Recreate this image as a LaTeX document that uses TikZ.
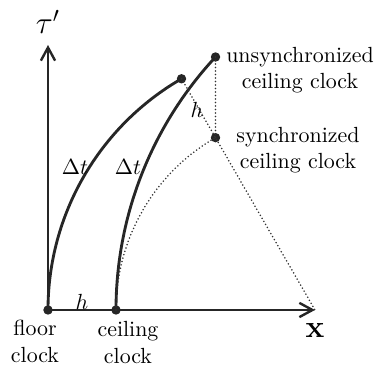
\documentclass[tikz,border=0pt]{standalone}
\usetikzlibrary{arrows.meta,calc}
\begin{document}
\begin{tikzpicture}[x=0.4566pt,y=0.4566pt,
  curve/.style={line width=1.3pt,draw=black!85},
  axis/.style={line width=1.3pt,draw=black!85,-{Straight Barb[length=6pt,width=6.5pt,line width=1.1pt]}},
  guide/.style={line width=0.8pt,dash pattern=on 0pt off 1.6pt,line cap=round,draw=black!80},
  dot/.style={circle,fill=black!85,inner sep=0pt,minimum size=4.3pt},
  lbl/.style={align=center,inner sep=0pt}]
\useasboundingbox (0,0) rectangle (377,365);
\coordinate (C) at (315,55);
\coordinate (xend) at (315,55);
\coordinate (ytip) at (48,320);
\node[dot] (floor) at (48,55) {};
\node[dot] (ceil) at (116,55) {};
\node[dot] (fe) at ($(C)+(120:267)$) {};
\node[dot] (sync) at ($(C)+(120:199)$) {};
\node[dot] (unsync) at ($(116+371.4,55)+(137.06:371.4)$) {};
% axes
\draw[axis] (floor.center) -- (xend);
\draw[axis] (floor.center) -- (ytip);
% worldlines
\draw[curve] (floor.center) arc[start angle=180,end angle=120,radius=267];
\draw[curve] (ceil.center) arc[start angle=180,end angle=137.06,radius=371.4];
% dotted guides
\draw[guide] (ceil.center) arc[start angle=180,end angle=120,radius=199];
\draw[guide] (fe.center) -- (C);
\draw[guide] (unsync.center) -- (sync.center);
% labels
\node[lbl] (tau) at (48,343) {\fontsize{14}{16}\selectfont$\tau'$};
\node[lbl] (lu) at (300,294.5) {unsynchronized\\ceiling clock};
\node[lbl] (ls) at (298,214.5) {synchronized\\ceiling clock};
\node[lbl] (lf) at (35,23.5) {floor\\clock};
\node[lbl] (lc) at (128,22.5) {ceiling\\clock};
\node[lbl] (lx) at (315,35) {\fontsize{13.4}{15}\selectfont$\mathbf{x}$};
\node[lbl] (h1) at (82,63) {$h$};
\node[lbl] (h2) at (197,255) {$h$};
\node[lbl] (d1) at (75,198) {$\Delta t$};
\node[lbl] (d2) at (128,198) {$\Delta t$};
\end{tikzpicture}
\end{document}
